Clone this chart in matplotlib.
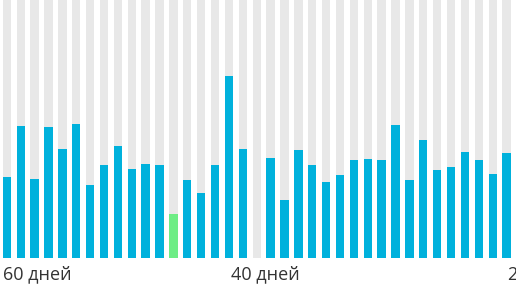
import matplotlib
matplotlib.use("Agg")
import matplotlib.pyplot as plt
import matplotlib.transforms as mtransforms
import numpy as np

# bar heights (full grey bar = 258)
values = [81, 132, 79, 131, 109, 134, 73, 93, 112, 89,
          94, 93, 44, 78, 65, 93, 182, 109, 0, 100,
          58, 108, 93, 76, 83, 98, 99, 98, 133, 78,
          118, 88, 91, 106, 98, 84, 105, 87]
highlight = [12]          # index of the green bar
full = 258

labels = ["60 дней", "40 дней", "20 дней"]
label_days = [60, 40, 20]

blue = "#00b1dc"
green = "#6ded85"
grey = "#e8e8e8"

plt.rcParams['font.family'] = ['Open Sans', 'DejaVu Sans']

fig = plt.figure(figsize=(5.16, 2.9), dpi=100)
ax = fig.add_axes([0, 0.1093, 1, 0.8907])

x = np.arange(len(values))
colors = [green if i in highlight else blue for i in x]

ax.bar(x, [full * 1.1] * len(values), width=0.6, color=grey, linewidth=0)
ax.bar(x, values, width=0.6, color=colors, linewidth=0)

ax.set_xlim(-0.494, 36.68)
ax.set_ylim(0, full)
ax.axis("off")

# day labels under the bars (first one is pushed inside the picture)
trans = mtransforms.blended_transform_factory(ax.transData, fig.transFigure)
for lab, d in zip(labels, label_days):
    pos = 58.6 - d
    if pos < ax.get_xlim()[0]:
        ax.text(-0.3, 0.038, lab, transform=trans, ha="left", va="baseline",
                fontsize=13, color="#333333", clip_on=False)
    else:
        ax.text(pos, 0.038, lab, transform=trans, ha="center", va="baseline",
                fontsize=13, color="#333333", clip_on=False)

fig.savefig("out.png", dpi=100)
